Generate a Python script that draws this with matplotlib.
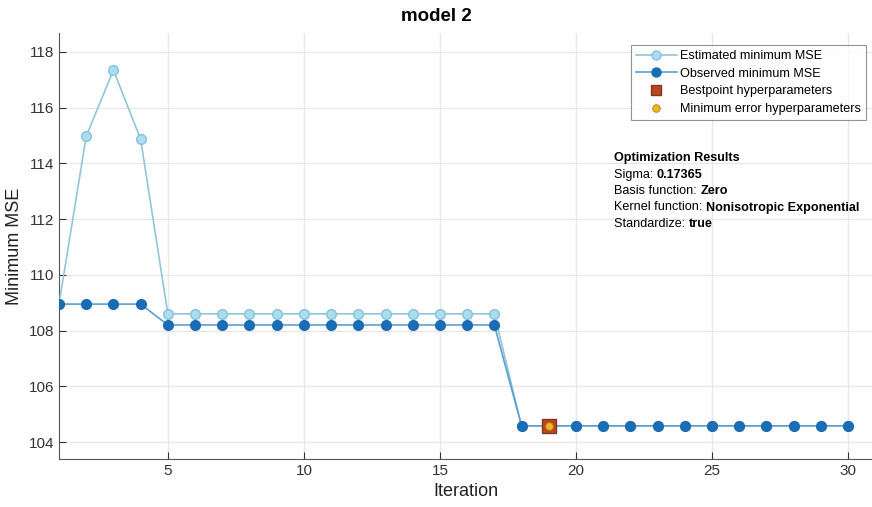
import matplotlib.pyplot as plt
from matplotlib.lines import Line2D
import numpy as np

plt.rcParams["font.family"] = ["Liberation Sans", "DejaVu Sans"]

# iteration history of the bayesian optimisation run
iterations = np.arange(1, 31)
estimated_mse = [108.95, 114.97, 117.35, 114.87] + [108.6] * 13 + [104.58] * 13
observed_mse = [108.95] * 4 + [108.2] * 13 + [104.58] * 13
best_iter = 19
best_mse = 104.58

est_face = "#acdcf0"
est_edge = "#86c3dc"
est_line = "#8fc6da"
obs_color = "#1a6cb4"
obs_line = "#5e9fcf"
best_face = "#c0441c"
best_edge = "#7a3a2a"
min_face = "#f0b51c"

fig = plt.figure(figsize=(8.72, 5.07), dpi=100)
ax = fig.add_axes([59 / 872, 1 - 459 / 507, (872 - 59) / 872, (459 - 33) / 507])

ax.plot(iterations, estimated_mse, color=est_line, lw=1.2, marker="o", ms=7,
        mfc=est_face, mec=est_edge, mew=1.0, zorder=3)
ax.plot(iterations, observed_mse, color=obs_line, lw=1.2, marker="o", ms=7,
        mfc=obs_color, mec=obs_color, zorder=4)
ax.plot([best_iter], [best_mse], ls="none", marker="s", ms=10, mfc=best_face,
        mec=best_edge, mew=1.0, zorder=5)
ax.plot([best_iter], [best_mse], ls="none", marker="o", ms=5.5, mfc=min_face,
        mec="#b08020", mew=0.6, zorder=6)

ax.set_xlim(1, 30.88)
ax.set_ylim(103.39, 118.68)
ax.set_xticks([5, 10, 15, 20, 25, 30])
ax.set_yticks(np.arange(104, 119, 2))
ax.grid(True, color="#e6e6e6", lw=0.9)
ax.set_axisbelow(True)
for side in ("top", "right"):
    ax.spines[side].set_visible(False)
for side in ("left", "bottom"):
    ax.spines[side].set_color("#555555")
ax.tick_params(direction="in", length=5, colors="#333333", labelsize=11)

ax.set_xlabel("Iteration", fontsize=13, color="#222222")
ax.set_ylabel("Minimum MSE", fontsize=13, color="#222222")
fig.suptitle("model 2", fontsize=13.5, fontweight="bold", y=0.985)

handles = [
    Line2D([], [], color=est_line, lw=1.2, marker="o", ms=6.5, mfc=est_face, mec=est_edge),
    Line2D([], [], color=obs_line, lw=1.2, marker="o", ms=6.5, mfc=obs_color, mec=obs_color),
    Line2D([], [], ls="none", marker="s", ms=7, mfc=best_face, mec=best_edge),
    Line2D([], [], ls="none", marker="o", ms=5.5, mfc=min_face, mec="#b08020", mew=0.6),
]
labels = ["Estimated minimum MSE", "Observed minimum MSE",
          "Bestpoint hyperparameters", "Minimum error hyperparameters"]
leg = ax.legend(handles, labels, loc="upper right", bbox_to_anchor=(0.993, 0.972),
                fontsize=9.1, frameon=True, fancybox=False, edgecolor="#777777",
                handlelength=3.2, handletextpad=0.3, borderpad=0.4, labelspacing=0.45,
                borderaxespad=0.0)
leg.get_frame().set_linewidth(0.8)

# summary text block, plain label followed by a bold value on the same baseline
tx, ty = 614 / 872, 1 - 161 / 507
lines = [("Optimization Results", ""), ("Sigma: ", "0.17365"),
         ("Basis function: ", "Zero"),
         ("Kernel function: ", "Nonisotropic Exponential"),
         ("Standardize: ", "true")]
dy = 16.5 / 507
renderer = fig.canvas.get_renderer()
for i, (plain, bold) in enumerate(lines):
    y = ty - i * dy
    if i == 0:
        fig.text(tx, y, plain, fontsize=9.1, fontweight="bold", va="baseline")
        continue
    t = fig.text(tx, y, plain, fontsize=9.1, va="baseline")
    bb = t.get_window_extent(renderer=renderer)
    fig.text(bb.x1 / fig.bbox.width, y, bold, fontsize=9.1, fontweight="bold", va="baseline")

fig.savefig("out.png", dpi=100)
